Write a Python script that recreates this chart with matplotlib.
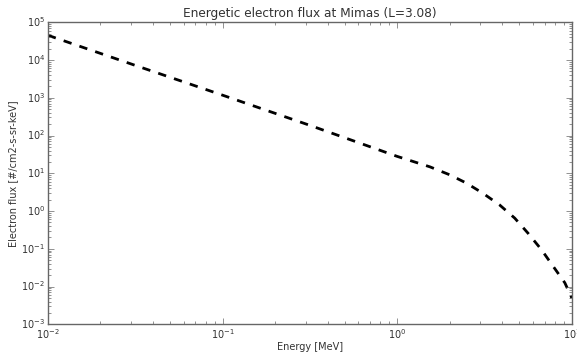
import matplotlib
matplotlib.use("Agg")
import matplotlib.pyplot as plt

plt.style.use("classic")

# electron spectrum at Mimas orbit
energy = [0.01, 0.0316, 0.1, 0.316, 1.0, 1.54, 2.0, 2.49, 3.1, 3.86, 4.71, 5.61, 6.7, 7.8, 9.12, 10.0]   # MeV
flux = [4.5e4, 7.2e3, 1.17e3, 186, 28, 14.8, 9.1, 5.5, 2.95, 1.45, 0.65, 0.26, 0.095, 0.035, 0.0126, 0.005]

txt = "0.2"
plt.rcParams["text.color"] = txt
plt.rcParams["axes.labelcolor"] = txt
plt.rcParams["xtick.color"] = "0.4"
plt.rcParams["ytick.color"] = "0.4"

fig = plt.figure(figsize=(5.77, 3.58), dpi=100, facecolor="white")
ax = fig.add_axes([0.083, 0.094, 0.908, 0.844])
ax.loglog(energy, flux, "k--", lw=2)
ax.set_xlim(1e-2, 10)
ax.set_ylim(1e-3, 1e5)
ax.set_title("Energetic electron flux at Mimas (L=3.08)", fontsize=8.7, pad=4)
ax.set_xlabel("Energy [MeV]", fontsize=7, labelpad=1)
ax.set_ylabel("Electron flux [#/cm2-s-sr-keV]", fontsize=7, labelpad=2)
ax.tick_params(labelsize=7, pad=2, labelcolor=txt)
for s in ax.spines.values():
    s.set_color("0.4")

fig.savefig("out.png", dpi=100, facecolor="white")
